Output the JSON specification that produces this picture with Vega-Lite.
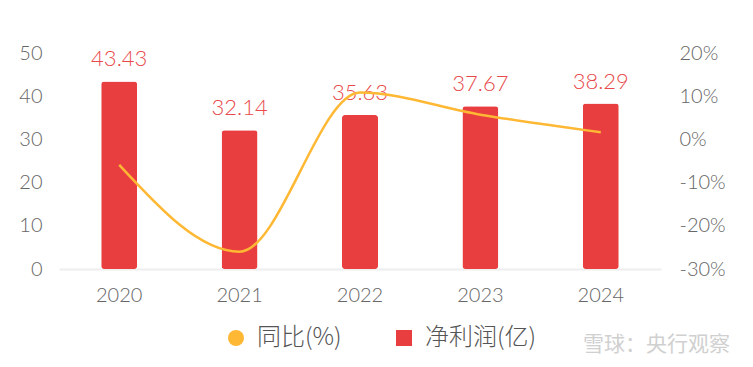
{
  "$schema": "https://vega.github.io/schema/vega-lite/v6.json",
  "width": 602,
  "height": 216,
  "autosize": {"type": "none"},
  "padding": {"left": 59, "top": 53, "right": 92, "bottom": 98},
  "background": "white",
  "config": {
    "view": {"stroke": null},
    "font": "Lato, Noto Sans CJK SC",
    "axis": {"labelFont": "Lato", "labelFontWeight": 300}
  },
  "data": {
    "values": [
      {"year": "2020", "profit": 43.43, "yoy": -5.9},
      {"year": "2021", "profit": 32.14, "yoy": -26.0},
      {"year": "2022", "profit": 35.63, "yoy": 10.86},
      {"year": "2023", "profit": 37.67, "yoy": 5.73},
      {"year": "2024", "profit": 38.29, "yoy": 1.65}
    ]
  },
  "title": {
    "text": "雪球：央行观察",
    "orient": "bottom",
    "anchor": "end",
    "align": "right",
    "frame": "group",
    "color": "#d0d0d0",
    "fontSize": 21,
    "fontWeight": 400,
    "font": "Noto Sans CJK SC",
    "dx": 69,
    "offset": 0,
    "dy": -16
  },
  "encoding": {
    "x": {
      "field": "year",
      "type": "nominal",
      "scale": {"paddingInner": 0.7, "paddingOuter": 0.35},
      "axis": {
        "title": null,
        "labelAngle": 0,
        "labelFontSize": 20,
        "labelColor": "#666666",
        "ticks": false,
        "domain": true,
        "domainColor": "#eeeeee",
        "domainWidth": 2,
        "labelPadding": 16
      }
    }
  },
  "layer": [
    {
      "mark": {"type": "bar", "cornerRadius": 3, "color": "#e83e3f", "width": 36},
      "encoding": {
        "y": {
          "field": "profit",
          "type": "quantitative",
          "scale": {"domain": [0, 50]},
          "axis": {
            "title": null,
            "values": [0, 10, 20, 30, 40, 50],
            "grid": false,
            "domain": false,
            "ticks": false,
            "labelFontSize": 20,
            "labelColor": "#666666",
            "labelPadding": 17
          }
        },
        "color": {
          "datum": "净利润(亿)",
          "type": "nominal",
          "scale": {"domain": ["同比(%)", "净利润(亿)"], "range": ["#ffb833", "#e83e3f"]},
          "legend": {
            "title": null,
            "orient": "none",
            "legendX": 165,
            "legendY": 273,
            "direction": "horizontal",
            "labelFontSize": 24,
            "labelColor": "#555555",
            "labelFont": "Noto Sans CJK SC",
            "labelFontWeight": 300,
            "symbolSize": 256,
            "columnPadding": 50,
            "labelOffset": 9,
            "symbolStrokeWidth": 0,
            "encode": {
              "symbols": {
                "update": {
                  "shape": {"signal": "datum.value === '同比(%)' ? 'circle' : 'square'"},
                  "fill": {"signal": "datum.value === '同比(%)' ? '#ffb833' : '#e83e3f'"},
                  "fillOpacity": {"value": 1},
                  "strokeWidth": {"value": 0}
                }
              }
            }
          }
        }
      }
    },
    {
      "mark": {"type": "text", "dy": -15, "fontSize": 22, "color": "#e84a4c", "font": "Lato", "fontWeight": 300, "baseline": "alphabetic"},
      "encoding": {
        "y": {"field": "profit", "type": "quantitative", "scale": {"domain": [0, 50]}, "axis": null},
        "text": {"field": "profit", "type": "quantitative", "format": ".2f"}
      }
    },
    {
      "mark": {"type": "line", "interpolate": "monotone", "strokeWidth": 2.5, "color": "#ffb833"},
      "encoding": {
        "y": {
          "field": "yoy",
          "type": "quantitative",
          "scale": {"domain": [-30, 20]},
          "axis": {
            "title": null,
            "orient": "right",
            "values": [-30, -20, -10, 0, 10, 20],
            "labelExpr": "datum.value + '%'",
            "grid": false,
            "domain": false,
            "ticks": false,
            "labelFontSize": 20,
            "labelColor": "#666666",
            "labelPadding": 18
          }
        }
      }
    }
  ],
  "resolve": {"scale": {"y": "independent"}}
}
